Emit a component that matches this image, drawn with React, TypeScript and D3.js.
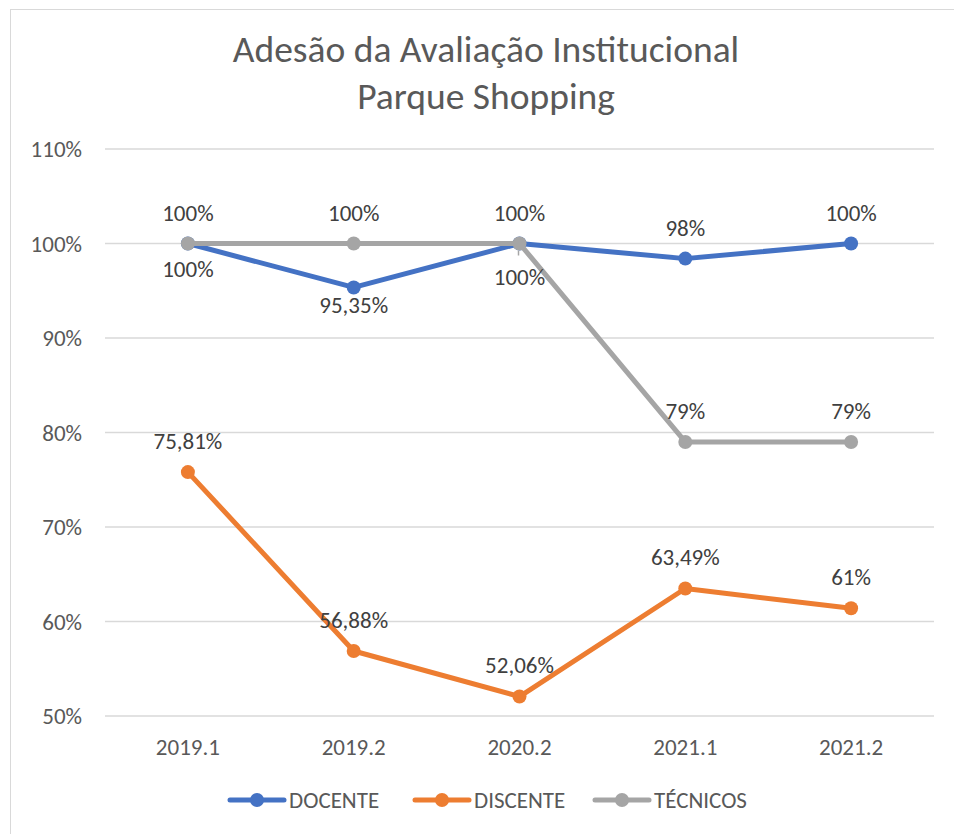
import React from "react";
import * as d3 from "d3";

const categories = ["2019.1", "2019.2", "2020.2", "2021.1", "2021.2"];
const docente = [100, 95.35, 100, 98.4, 100];
const discente = [75.81, 56.88, 52.06, 63.49, 61.4];
const tecnicos = [100, 100, 100, 79, 79];
const docenteLabels = ["100%", "95,35%", "100%", "98%", "100%"];
const discenteLabels = ["75,81%", "56,88%", "52,06%", "63,49%", "61%"];
const tecnicosLabels = ["100%", "100%", "100%", "79%", "79%"];
const yTicks = [50, 60, 70, 80, 90, 100, 110];
const titleLines = ["Adesão da Avaliação Institucional", "Parque Shopping"];

// label placement (layout only): negative = above, positive = below (px from point to label centre)
const docenteLabelDy = [25, 18, -31, -31, -31];
const discenteLabelDy = [-31, -31, -32, -32, -31];
const tecnicosLabelDy = [-31, -31, 33, -31, -31];

const W = 954;
const H = 834;
const FONT = "Carlito, Lato, 'Open Sans', sans-serif";
const FS = 23;

export default function App() {
  const x = d3.scalePoint<string>().domain(categories).range([105, 934]).padding(0.5);
  const y = d3.scaleLinear().domain([50, 110]).range([716, 149]);

  const series = [
    { name: "DOCENTE", color: "#4472C4", values: docente, labels: docenteLabels, dy: docenteLabelDy },
    { name: "DISCENTE", color: "#ED7D31", values: discente, labels: discenteLabels, dy: discenteLabelDy },
    { name: "TÉCNICOS", color: "#A5A5A5", values: tecnicos, labels: tecnicosLabels, dy: tecnicosLabelDy },
  ];

  const line = d3
    .line<number>()
    .x((_, i) => x(categories[i]) as number)
    .y((d) => y(d));

  const legendX = [230, 415, 595];

  return (
    <svg
      width={W}
      height={H}
      style={{ position: "absolute", left: 0, top: 0, background: "#fff" }}
      fontFamily={FONT}
    >
      <rect x={0} y={0} width={W} height={H} fill="#fff" />
      <rect x={10.5} y={9.5} width={W + 20} height={H + 20} fill="none" stroke="#D9D9D9" />
      {titleLines.map((t, i) => (
        <text
          key={t}
          x={486}
          y={49 + i * 47}
          textAnchor="middle"
          dominantBaseline="central"
          fontSize={37.5}
          fontWeight={300}
          fill="#595959"
        >
          {t}
        </text>
      ))}
      {yTicks.map((t) => (
        <g key={t}>
          <line x1={105} x2={934} y1={y(t)} y2={y(t)} stroke="#D9D9D9" strokeWidth={1.5} />
          <text
            x={82}
            y={y(t)}
            textAnchor="end"
            dominantBaseline="central"
            fontSize={FS}
            fill="#595959"
          >
            {t}%
          </text>
        </g>
      ))}
      {categories.map((c) => (
        <text
          key={c}
          x={x(c)}
          y={747}
          textAnchor="middle"
          dominantBaseline="central"
          fontSize={FS}
          fill="#595959"
        >
          {c}
        </text>
      ))}
      {series.map((s) => (
        <g key={s.name}>
          <path d={line(s.values) || ""} fill="none" stroke={s.color} strokeWidth={5} strokeLinejoin="round" strokeLinecap="round" />
          {s.values.map((v, i) => (
            <circle key={i} cx={x(categories[i])} cy={y(v)} r={7} fill={s.color} />
          ))}
        </g>
      ))}
      <line
        x1={x(categories[2]) as number - 1}
        x2={x(categories[2]) as number - 1}
        y1={y(tecnicos[2]) + 7}
        y2={y(tecnicos[2]) + 12}
        stroke="#A5A5A5"
        strokeWidth={1.5}
      />
      {series.map((s) => (
        <g key={s.name + "-labels"}>
          {s.values.map((v, i) => (
            <text
              key={i}
              x={x(categories[i])}
              y={y(v) + s.dy[i]}
              textAnchor="middle"
              dominantBaseline="central"
              fontSize={FS}
              fill="#404040"
            >
              {s.labels[i]}
            </text>
          ))}
        </g>
      ))}
      {series.map((s, i) => (
        <g key={s.name + "-legend"} transform={`translate(${legendX[i]},800)`}>
          <line x1={0} x2={54} y1={0} y2={0} stroke={s.color} strokeWidth={5} strokeLinecap="round" />
          <circle cx={27} cy={0} r={7} fill={s.color} />
          <text x={59} y={0} dominantBaseline="central" fontSize={FS} fill="#595959">
            {s.name}
          </text>
        </g>
      ))}
    </svg>
  );
}
